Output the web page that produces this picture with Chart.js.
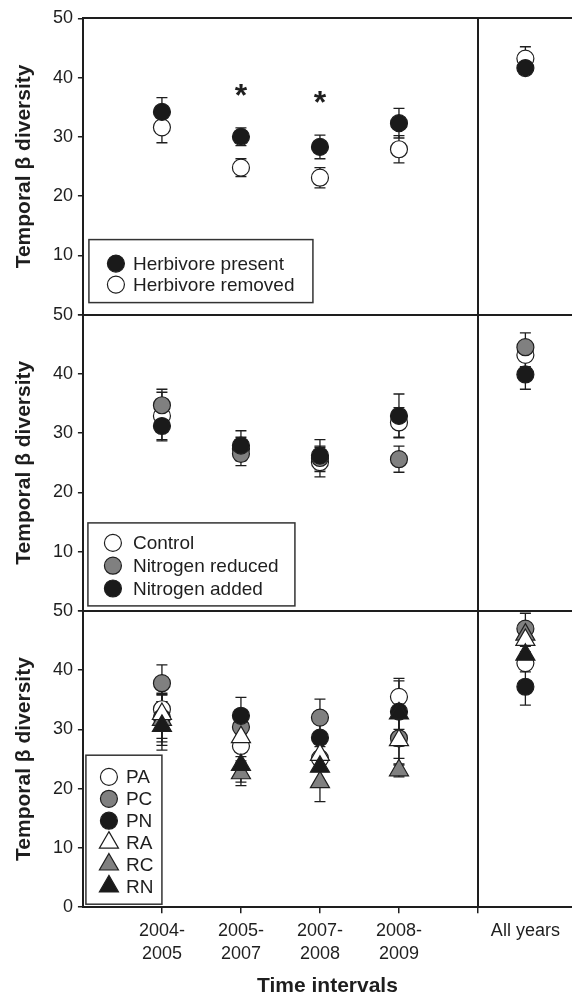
<!DOCTYPE html>
<html>
<head>
<meta charset="utf-8">
<script src="https://cdn.jsdelivr.net/npm/chart.js@4.4.1/dist/chart.umd.min.js"></script>
<style>
  html, body { margin: 0; padding: 0; background: #fff; }
  #wrap { width: 572px; height: 994px; position: relative; }
</style>
</head>
<body>
<div id="wrap"><canvas id="chart"></canvas></div>
<script>
// categories on the x axis
const intervals = [["2004-", "2005"], ["2005-", "2007"], ["2007-", "2008"], ["2008-", "2009"], ["All years"]];

// panel 1: herbivores
const herbPresent = [34.2, 30.0, 28.3, 32.3, 41.6];
const herbPresentErr = [2.4, 1.5, 2.0, 2.5, 1.0];
const herbRemoved = [31.6, 24.8, 23.1, 27.9, 43.2];
const herbRemovedErr = [2.6, 1.5, 1.7, 2.3, 2.0];
const herbStars = ["", "*", "*", "", ""];

// panel 2: nitrogen
const control = [32.9, 27.3, 25.1, 31.8, 43.2];
const controlErr = [4.0, 2.0, 2.5, 2.5, 2.0];
const nReduced = [34.7, 26.5, 25.8, 25.6, 44.5];
const nReducedErr = [2.7, 2.0, 2.0, 2.2, 2.4];
const nAdded = [31.2, 27.9, 26.2, 32.9, 39.9];
const nAddedErr = [2.5, 2.5, 2.7, 3.7, 2.5];

// panel 3: combinations
const pa = [33.4, 27.2, 25.1, 35.5, 41.2];
const paErr = [2.4, 1.8, 2.0, 3.1, 1.5];
const pc = [37.8, 30.4, 32.0, 28.5, 47.0];
const pcErr = [3.1, 2.0, 3.1, 3.4, 2.6];
const pn = [32.0, 32.3, 28.6, 33.0, 37.2];
const pnErr = [4.1, 3.1, 2.5, 3.0, 3.1];
const ra = [32.6, 28.7, 25.7, 28.2, 45.1];
const raErr = [4.1, 4.3, 2.5, 4.2, 2.0];
const rc = [31.6, 22.6, 21.1, 23.1, 46.0];
const rcErr = [4.3, 2.1, 3.3, 1.1, 2.0];
const rn = [30.6, 24.0, 23.7, 32.7, 42.6];
const rnErr = [4.1, 2.9, 2.5, 5.5, 2.0];

const yTicks = [0, 10, 20, 30, 40, 50];

const FONT = "'Liberation Sans', Arial, Helvetica, sans-serif";
const INK = "#1e1e1e";
const BLACK = "#1a1a1a";
const GREY = "#808080";
const WHITE = "#ffffff";

// slot 0..3 are the intervals, the last slot sits right of the divider
const DIVIDER = 5;
const xOf = (i) => (i < 4 ? i + 1 : 5.6);

function series(label, values, errs, axis, style, fill, order) {
  return {
    label,
    data: values.map((v, i) => ({ x: xOf(i), y: v })),
    errors: errs,
    yAxisID: axis,
    pointStyle: style,
    pointRadius: style === "triangle" ? 11 : 8.5,
    pointHoverRadius: style === "triangle" ? 11 : 8.5,
    backgroundColor: fill,
    borderColor: INK,
    borderWidth: 1.2,
    showLine: false,
    order,
  };
}

const datasets = [
  series("Herbivore present", herbPresent, herbPresentErr, "yA", "circle", BLACK, 0),
  series("Herbivore removed", herbRemoved, herbRemovedErr, "yA", "circle", WHITE, 1),
  series("Control", control, controlErr, "yB", "circle", WHITE, 2),
  series("Nitrogen reduced", nReduced, nReducedErr, "yB", "circle", GREY, 1),
  series("Nitrogen added", nAdded, nAddedErr, "yB", "circle", BLACK, 0),
  series("PA", pa, paErr, "yC", "circle", WHITE, 5),
  series("PC", pc, pcErr, "yC", "circle", GREY, 4),
  series("PN", pn, pnErr, "yC", "circle", BLACK, 3),
  series("RA", ra, raErr, "yC", "triangle", WHITE, 1),
  series("RC", rc, rcErr, "yC", "triangle", GREY, 2),
  series("RN", rn, rnErr, "yC", "triangle", BLACK, 0),
];

function drawMarker(ctx, style, r, x, y, fill) {
  ctx.save();
  ctx.fillStyle = fill;
  ctx.strokeStyle = INK;
  ctx.lineWidth = 1.2;
  ctx.beginPath();
  if (style === "triangle") {
    let rad = 0;
    ctx.moveTo(x + Math.sin(rad) * r, y - Math.cos(rad) * r);
    rad += (2 * Math.PI) / 3;
    ctx.lineTo(x + Math.sin(rad) * r, y - Math.cos(rad) * r);
    rad += (2 * Math.PI) / 3;
    ctx.lineTo(x + Math.sin(rad) * r, y - Math.cos(rad) * r);
    ctx.closePath();
  } else {
    ctx.arc(x, y, r, 0, Math.PI * 2);
  }
  ctx.fill();
  ctx.stroke();
  ctx.restore();
}

// error bars behind the markers
const errorBars = {
  id: "errorBars",
  beforeDatasetsDraw(chart) {
    const ctx = chart.ctx;
    ctx.save();
    ctx.strokeStyle = INK;
    ctx.lineWidth = 1.3;
    chart.data.datasets.forEach((ds, i) => {
      const meta = chart.getDatasetMeta(i);
      const ys = chart.scales[ds.yAxisID];
      meta.data.forEach((pt, j) => {
        const v = ds.data[j].y, e = ds.errors[j];
        const top = ys.getPixelForValue(v + e);
        const bot = ys.getPixelForValue(v - e);
        ctx.beginPath();
        ctx.moveTo(pt.x, top); ctx.lineTo(pt.x, bot);
        ctx.moveTo(pt.x - 5.5, top); ctx.lineTo(pt.x + 5.5, top);
        ctx.moveTo(pt.x - 5.5, bot); ctx.lineTo(pt.x + 5.5, bot);
        ctx.stroke();
      });
    });
    ctx.restore();
  },
};

// panel frames and the divider before "All years"
const frames = {
  id: "frames",
  afterDraw(chart) {
    const { ctx, chartArea } = chart;
    ctx.save();
    ctx.strokeStyle = INK;
    ctx.lineWidth = 2;
    ["yA", "yB", "yC"].forEach((id) => {
      const y = Math.round(chart.scales[id].getPixelForValue(50));
      ctx.beginPath();
      ctx.moveTo(chartArea.left, y);
      ctx.lineTo(chartArea.right, y);
      ctx.stroke();
    });
    const xd = Math.round(chart.scales.x.getPixelForValue(DIVIDER));
    ctx.beginPath();
    ctx.moveTo(xd, chartArea.top);
    ctx.lineTo(xd, chartArea.bottom);
    ctx.stroke();
    ctx.restore();
  },
};

// significance stars above panel 1
const stars = {
  id: "stars",
  afterDatasetsDraw(chart) {
    const ctx = chart.ctx;
    const ys = chart.scales.yA;
    ctx.save();
    ctx.fillStyle = INK;
    ctx.font = "bold 32px " + FONT;
    ctx.textAlign = "center";
    ctx.textBaseline = "alphabetic";
    herbStars.forEach((s, i) => {
      if (!s) return;
      const top = Math.max(herbPresent[i] + herbPresentErr[i], herbRemoved[i] + herbRemovedErr[i]);
      const x = chart.scales.x.getPixelForValue(xOf(i));
      const y = ys.getPixelForValue(top) - 41;
      ctx.fillText(s, x, y + 19);
    });
    ctx.restore();
  },
};

// boxed legends in the lower left of each panel
const legendBoxes = [
  { axis: "yA", left: 6, bottom: 12, width: 224, height: 63, first: 24, gap: 21, markerX: 27, textX: 44 },
  { axis: "yB", left: 5, bottom: 5, width: 207, height: 83, first: 20, gap: 22.8, markerX: 25, textX: 45 },
  { axis: "yC", left: 3, bottom: 3, width: 76, height: 149, first: 21.7, gap: 21.9, markerX: 23, textX: 40 },
];

const panelLegends = {
  id: "panelLegends",
  afterDraw(chart) {
    const ctx = chart.ctx;
    legendBoxes.forEach((lb) => {
      const ys = chart.scales[lb.axis];
      const x0 = chart.chartArea.left + lb.left;
      const y0 = ys.getPixelForValue(0) - lb.bottom - lb.height;
      ctx.save();
      ctx.fillStyle = "#fff";
      ctx.fillRect(x0, y0, lb.width, lb.height);
      ctx.strokeStyle = "#333";
      ctx.lineWidth = 1.5;
      ctx.strokeRect(x0, y0, lb.width, lb.height);
      ctx.font = "19px " + FONT;
      ctx.fillStyle = INK;
      ctx.textBaseline = "middle";
      chart.data.datasets
        .filter((ds) => ds.yAxisID === lb.axis)
        .forEach((ds, k) => {
          const y = y0 + lb.first + k * lb.gap;
          drawMarker(ctx, ds.pointStyle, ds.pointRadius, x0 + lb.markerX, y, ds.backgroundColor);
          ctx.fillStyle = INK;
          ctx.fillText(ds.label, x0 + lb.textX, y + 1);
        });
      ctx.restore();
    });
  },
};

function yAxis(showZero) {
  return {
    type: "linear",
    position: "left",
    stack: "panels",
    stackWeight: 1,
    min: 0,
    max: 50,
    border: { display: true, color: INK, width: 2 },
    grid: { drawOnChartArea: false, drawTicks: true, tickLength: 5, color: INK, lineWidth: 1.5 },
    afterBuildTicks: (scale) => { scale.ticks = yTicks.map((v) => ({ value: v })); },
    ticks: {
      color: INK,
      padding: 5,
      font: { family: FONT, size: 18 },
      callback: (v) => (v === 0 && !showZero ? "" : v),
    },
    title: {
      display: true,
      text: "Temporal β diversity",
      color: INK,
      font: { family: FONT, size: 21, weight: "bold" },
      padding: { top: 11.5, bottom: 11.2 },
    },
  };
}

const xTickValues = [1, 2, 3, 4, DIVIDER, xOf(4)];

new Chart(document.getElementById("chart"), {
  type: "scatter",
  data: { datasets },
  options: {
    responsive: true,
    maintainAspectRatio: false,
    animation: false,
    layout: { autoPadding: false, padding: { top: 18.3, right: 0, bottom: 0, left: 0 } },
    plugins: { legend: { display: false }, tooltip: { enabled: false } },
    scales: {
      x: {
        type: "linear",
        min: 0,
        max: 6.19,
        border: { display: true, color: INK, width: 2 },
        grid: {
          drawOnChartArea: false,
          drawTicks: true,
          tickLength: 6,
          lineWidth: 1.5,
          color: INK,
          tickColor: (c) => (c.tick && c.tick.value === xOf(4) ? "rgba(0,0,0,0)" : INK),
        },
        afterBuildTicks: (scale) => { scale.ticks = xTickValues.map((v) => ({ value: v })); },
        ticks: {
          autoSkip: false,
          maxRotation: 0,
          color: INK,
          padding: 6,
          font: { family: FONT, size: 18, lineHeight: 1.3 },
          callback: (v) => {
            if (v === DIVIDER) return "";
            const i = v === xOf(4) ? 4 : v - 1;
            return intervals[i];
          },
        },
        title: {
          display: true,
          text: "Time intervals",
          color: INK,
          font: { family: FONT, size: 21, weight: "bold", lineHeight: 1.0 },
          padding: { top: 3.5, bottom: -2.5 },
        },
      },
      yC: yAxis(true),
      yB: yAxis(false),
      yA: yAxis(false),
    },
  },
  plugins: [errorBars, frames, stars, panelLegends],
});
</script>
</body>
</html>
